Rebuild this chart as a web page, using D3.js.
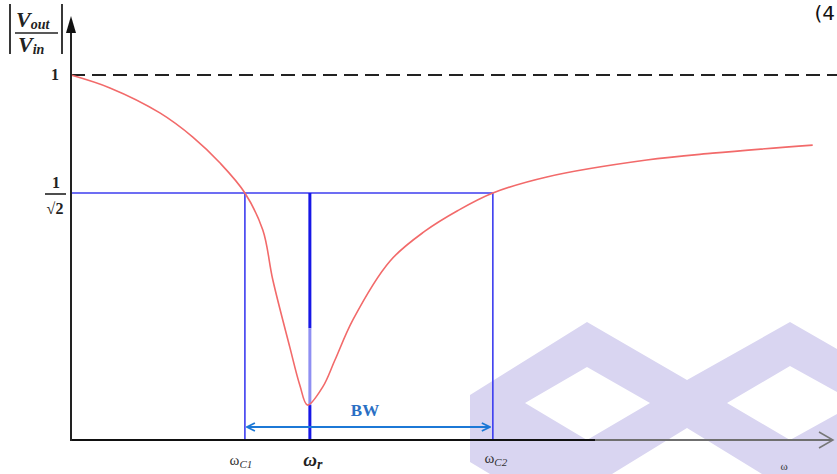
<!DOCTYPE html>
<html>
<head>
<meta charset="utf-8">
<script src="https://cdn.jsdelivr.net/npm/d3@7"></script>
<style>
  html, body { margin: 0; padding: 0; background: #fff; }
  svg { display: block; }
</style>
</head>
<body>
<div id="chart"></div>
<script>
// band-stop response, omega normalised so that omega_r = 1
var omega     = [0, 0.163, 0.372, 0.510, 0.623, 0.728, 0.803, 0.845, 0.916, 0.958, 0.99, 1.054, 1.105, 1.180, 1.335, 1.480, 1.620, 1.766, 1.992, 2.410, 2.686, 3.105];
var magnitude = [1, 0.968, 0.906, 0.846, 0.782, 0.707, 0.601, 0.458, 0.266, 0.157, 0.10, 0.152, 0.229, 0.344, 0.512, 0.597, 0.657, 0.707, 0.747, 0.789, 0.806, 0.826];

var passLevel = 1;
var halfPower = Math.SQRT1_2;
var omegaC1 = 0.728;
var omegaR  = 1.0;
var omegaC2 = 1.766;
var omegaMax = 3.19;

var W = 837, H = 474;

var svg = d3.select("#chart").append("svg")
  .attr("width", W).attr("height", H)
  .style("font-family", "'Liberation Serif', 'DejaVu Serif', serif");

var x = d3.scaleLinear().domain([0, omegaMax]).range([71, 833]);
var y = d3.scaleLinear().domain([0, halfPower, passLevel]).range([440, 193, 75]);

var defs = svg.append("defs");
defs.append("marker")
  .attr("id", "bw-head").attr("viewBox", "0 0 10 10")
  .attr("refX", 9).attr("refY", 5)
  .attr("markerWidth", 10).attr("markerHeight", 10)
  .attr("markerUnits", "userSpaceOnUse")
  .attr("orient", "auto-start-reverse")
  .append("path").attr("d", "M1,1 L9,5 L1,9")
  .attr("fill", "none").attr("stroke", "#1c78d6").attr("stroke-width", 1.8);

// watermark (background decoration)
svg.append("path")
  .attr("fill", "#d9d5f1")
  .attr("fill-rule", "evenodd")
  .attr("d",
    "M470,395 L587,322 L687,380 L790,322 L837,349 L837,474 L470,474 Z" +
    "M525,403 L587,367 L650,403 L587,440 Z" +
    "M727,403 L790,366 L837,392 L837,414 L790,440 Z" +
    "M612,474 L687,428 L762,474 Z" +
    "M470,462 L490,474 L470,474 Z");

var g = svg.append("g");

// dashed pass-band level
g.append("line")
  .attr("x1", x(0)).attr("x2", W)
  .attr("y1", y(passLevel)).attr("y2", y(passLevel))
  .attr("stroke", "#222").attr("stroke-width", 2)
  .attr("stroke-dasharray", "14,7");

// half-power level and cut-off verticals
var blue = "#3c3cef";
g.append("line")
  .attr("x1", x(0)).attr("x2", x(omegaC2))
  .attr("y1", y(halfPower)).attr("y2", y(halfPower))
  .attr("stroke", blue).attr("stroke-width", 1.6);

[omegaC1, omegaC2].forEach(function(w){
  g.append("line")
    .attr("x1", x(w)).attr("x2", x(w))
    .attr("y1", y(halfPower)).attr("y2", y(0))
    .attr("stroke", blue).attr("stroke-width", 1.6);
});

// resonance line, lighter where it crosses the notch
g.append("line")
  .attr("x1", x(omegaR)).attr("x2", x(omegaR))
  .attr("y1", y(halfPower)).attr("y2", y(0.32))
  .attr("stroke", "#1717e6").attr("stroke-width", 3);
g.append("line")
  .attr("x1", x(omegaR)).attr("x2", x(omegaR))
  .attr("y1", y(0.32)).attr("y2", y(0.10))
  .attr("stroke", "#8f8ff2").attr("stroke-width", 3);
g.append("line")
  .attr("x1", x(omegaR)).attr("x2", x(omegaR))
  .attr("y1", y(0.10)).attr("y2", y(0))
  .attr("stroke", "#1717e6").attr("stroke-width", 3);

// response curve
var line = d3.line()
  .x(function(d){ return x(d[0]); })
  .y(function(d){ return y(d[1]); })
  .curve(d3.curveCatmullRom.alpha(0.5));

g.append("path")
  .datum(d3.zip(omega, magnitude))
  .attr("d", line)
  .attr("fill", "none")
  .attr("stroke", "#f26a6a")
  .attr("stroke-width", 1.6);

// bandwidth arrow
g.append("line")
  .attr("x1", x(omegaC1) + 2).attr("x2", x(omegaC2) - 3)
  .attr("y1", 427).attr("y2", 427)
  .attr("stroke", "#1c78d6").attr("stroke-width", 2)
  .attr("marker-start", "url(#bw-head)")
  .attr("marker-end", "url(#bw-head)");
g.append("text")
  .attr("x", 365).attr("y", 416)
  .attr("text-anchor", "middle")
  .attr("font-size", 17).attr("font-weight", "bold")
  .attr("fill", "#2a6fc4")
  .text("BW");

// axes
g.append("line")
  .attr("x1", x(0)).attr("x2", 595)
  .attr("y1", y(0)).attr("y2", y(0))
  .attr("stroke", "#111").attr("stroke-width", 2);
g.append("line")
  .attr("x1", 595).attr("x2", 833)
  .attr("y1", y(0)).attr("y2", y(0))
  .attr("stroke", "#6f6f6f").attr("stroke-width", 2);
g.append("path")
  .attr("d", "M819,432 L833,440 L819,448")
  .attr("fill", "none").attr("stroke", "#777").attr("stroke-width", 1.5);

g.append("line")
  .attr("x1", x(0)).attr("x2", x(0))
  .attr("y1", y(0) + 1).attr("y2", 28)
  .attr("stroke", "#222").attr("stroke-width", 2);
g.append("path")
  .attr("d", "M71,16 L76,33 L66,33 Z")
  .attr("fill", "#111");

// y labels
var labels = svg.append("g").attr("fill", "#222").attr("font-weight", "bold");
labels.append("text")
  .attr("x", 55).attr("y", y(passLevel) + 5)
  .attr("text-anchor", "middle").attr("font-size", 16)
  .text("1");
labels.append("text")
  .attr("x", 56).attr("y", y(halfPower) - 5)
  .attr("text-anchor", "middle").attr("font-size", 16)
  .text("1");
labels.append("line")
  .attr("x1", 45).attr("x2", 66)
  .attr("y1", y(halfPower) + 1).attr("y2", y(halfPower) + 1)
  .attr("stroke", "#222").attr("stroke-width", 1.6);
labels.append("text")
  .attr("x", 55).attr("y", y(halfPower) + 21)
  .attr("text-anchor", "middle").attr("font-size", 16)
  .text("\u221A2");

// |Vout / Vin|
var yt = labels.append("g").attr("font-style", "italic").attr("font-size", 22);
yt.append("text").attr("x", 16).attr("y", 27)
  .html("V<tspan font-size='14' dy='2'>out</tspan>");
yt.append("line")
  .attr("x1", 15).attr("x2", 58).attr("y1", 33).attr("y2", 33)
  .attr("stroke", "#222").attr("stroke-width", 1.6);
yt.append("text").attr("x", 18).attr("y", 52)
  .html("V<tspan font-size='14' dy='2'>in</tspan>");
[10, 62].forEach(function(bx){
  yt.append("line")
    .attr("x1", bx).attr("x2", bx).attr("y1", 4).attr("y2", 54)
    .attr("stroke", "#222").attr("stroke-width", 1.8);
});

// x labels
var xl = svg.append("g").attr("fill", "#333");
xl.append("text")
  .attr("x", x(omegaC1) - 4).attr("y", 465)
  .attr("text-anchor", "middle").attr("font-size", 15)
  .html("\u03C9<tspan font-size='11' font-style='italic' dy='3'>C1</tspan>");
xl.append("text")
  .attr("x", x(omegaC2) + 3).attr("y", 463)
  .attr("text-anchor", "middle").attr("font-size", 15)
  .html("\u03C9<tspan font-size='11' font-style='italic' dy='3'>C2</tspan>");
xl.append("text")
  .attr("x", x(omegaR) + 3).attr("y", 466)
  .attr("text-anchor", "middle").attr("font-size", 19)
  .attr("font-weight", "bold").attr("font-style", "italic").attr("fill", "#222")
  .html("\u03C9<tspan font-size='14' dy='3'>r</tspan>");
xl.append("text")
  .attr("x", 784).attr("y", 470)
  .attr("text-anchor", "middle").attr("font-size", 11)
  .text("\u03C9");

// heading fragment at top right
svg.append("text")
  .attr("x", 835).attr("y", 20)
  .attr("text-anchor", "end")
  .attr("font-size", 20).attr("fill", "#111")
  .attr("font-family", "'DejaVu Sans', sans-serif")
  .text("(4");
</script>
</body>
</html>
